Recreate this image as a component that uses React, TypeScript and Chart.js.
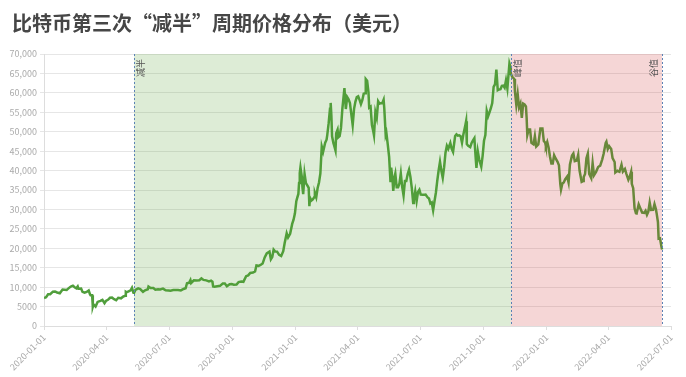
import { useEffect, useRef } from 'react';
import { Chart, registerables } from 'chart.js';

Chart.register(...registerables);

const titleText = '比特币第三次“减半”周期价格分布（美元）';

const dates: string[] = [
  '2020-01-01','2020-01-04','2020-01-07','2020-01-10','2020-01-14','2020-01-17','2020-01-20','2020-01-24','2020-01-28','2020-01-31',
  '2020-02-03','2020-02-06','2020-02-09','2020-02-12','2020-02-15','2020-02-17','2020-02-19','2020-02-20','2020-02-24','2020-02-26','2020-02-29',
  '2020-03-03','2020-03-06','2020-03-08','2020-03-09','2020-03-11','2020-03-12','2020-03-13','2020-03-16','2020-03-19','2020-03-23','2020-03-26','2020-03-29','2020-03-31',
  '2020-04-03','2020-04-06','2020-04-09','2020-04-12','2020-04-15','2020-04-18','2020-04-22','2020-04-25','2020-04-28','2020-04-29','2020-04-30',
  '2020-05-03','2020-05-06','2020-05-08','2020-05-10','2020-05-11','2020-05-13','2020-05-17','2020-05-20','2020-05-24','2020-05-27','2020-05-31',
  '2020-06-01','2020-06-04','2020-06-08','2020-06-11','2020-06-15','2020-06-18','2020-06-22','2020-06-26','2020-06-30',
  '2020-07-03','2020-07-07','2020-07-10','2020-07-14','2020-07-18','2020-07-22','2020-07-25','2020-07-27','2020-07-30',
  '2020-08-01','2020-08-02','2020-08-06','2020-08-10','2020-08-14','2020-08-17','2020-08-20','2020-08-24','2020-08-28','2020-08-31',
  '2020-09-02','2020-09-03','2020-09-05','2020-09-09','2020-09-13','2020-09-17','2020-09-20','2020-09-23','2020-09-27','2020-09-30',
  '2020-10-03','2020-10-07','2020-10-10','2020-10-14','2020-10-17','2020-10-21','2020-10-24','2020-10-27','2020-10-31',
  '2020-11-03','2020-11-05','2020-11-08','2020-11-11','2020-11-14','2020-11-17','2020-11-20','2020-11-24','2020-11-26','2020-11-28','2020-11-30',
  '2020-12-02','2020-12-05','2020-12-08','2020-12-11','2020-12-14','2020-12-16','2020-12-19','2020-12-21','2020-12-24','2020-12-27','2020-12-29','2020-12-31',
  '2021-01-02','2021-01-03','2021-01-05','2021-01-06','2021-01-07','2021-01-08','2021-01-10','2021-01-11','2021-01-12','2021-01-14','2021-01-16','2021-01-18','2021-01-20','2021-01-21','2021-01-22','2021-01-24','2021-01-26','2021-01-28','2021-01-29','2021-01-31',
  '2021-02-02','2021-02-04','2021-02-06','2021-02-08','2021-02-10','2021-02-13','2021-02-15','2021-02-16','2021-02-18','2021-02-20','2021-02-21','2021-02-22','2021-02-23','2021-02-25','2021-02-26','2021-02-28',
  '2021-03-01','2021-03-03','2021-03-04','2021-03-06','2021-03-08','2021-03-10','2021-03-13','2021-03-15','2021-03-17','2021-03-19','2021-03-21','2021-03-23','2021-03-25','2021-03-27','2021-03-29','2021-03-31',
  '2021-04-02','2021-04-04','2021-04-06','2021-04-08','2021-04-10','2021-04-12','2021-04-13','2021-04-15','2021-04-17','2021-04-18','2021-04-20','2021-04-22','2021-04-24','2021-04-25','2021-04-27','2021-04-29',
  '2021-05-01','2021-05-03','2021-05-05','2021-05-07','2021-05-09','2021-05-10','2021-05-12','2021-05-13','2021-05-15','2021-05-17','2021-05-19','2021-05-20','2021-05-22','2021-05-23','2021-05-25','2021-05-26','2021-05-28','2021-05-30',
  '2021-06-01','2021-06-03','2021-06-05','2021-06-07','2021-06-09','2021-06-11','2021-06-13','2021-06-15','2021-06-17','2021-06-19','2021-06-21','2021-06-22','2021-06-24','2021-06-26','2021-06-28','2021-06-30',
  '2021-07-02','2021-07-05','2021-07-07','2021-07-09','2021-07-12','2021-07-14','2021-07-16','2021-07-18','2021-07-20','2021-07-22','2021-07-24','2021-07-26','2021-07-28','2021-07-30',
  '2021-08-01','2021-08-03','2021-08-05','2021-08-07','2021-08-09','2021-08-11','2021-08-14','2021-08-16','2021-08-18','2021-08-21','2021-08-23','2021-08-25','2021-08-27','2021-08-29','2021-08-31',
  '2021-09-02','2021-09-05','2021-09-06','2021-09-07','2021-09-09','2021-09-12','2021-09-14','2021-09-16','2021-09-18','2021-09-20','2021-09-21','2021-09-23','2021-09-25','2021-09-28','2021-09-30',
  '2021-10-02','2021-10-04','2021-10-06','2021-10-08','2021-10-10','2021-10-12','2021-10-14','2021-10-16','2021-10-18','2021-10-20','2021-10-22','2021-10-24','2021-10-26','2021-10-28','2021-10-30',
  '2021-11-01','2021-11-03','2021-11-05','2021-11-08','2021-11-09','2021-11-10','2021-11-12','2021-11-15','2021-11-16','2021-11-18','2021-11-20','2021-11-22','2021-11-24','2021-11-26','2021-11-28','2021-11-30',
  '2021-12-02','2021-12-03','2021-12-04','2021-12-06','2021-12-08','2021-12-10','2021-12-13','2021-12-15','2021-12-17','2021-12-20','2021-12-23','2021-12-26','2021-12-28','2021-12-30','2021-12-31',
  '2022-01-02','2022-01-04','2022-01-06','2022-01-08','2022-01-10','2022-01-12','2022-01-14','2022-01-17','2022-01-19','2022-01-21','2022-01-22','2022-01-24','2022-01-26','2022-01-28','2022-01-31',
  '2022-02-02','2022-02-04','2022-02-07','2022-02-09','2022-02-11','2022-02-14','2022-02-16','2022-02-18','2022-02-21','2022-02-23','2022-02-24','2022-02-26','2022-02-28',
  '2022-03-02','2022-03-04','2022-03-07','2022-03-09','2022-03-11','2022-03-14','2022-03-17','2022-03-20','2022-03-23','2022-03-25','2022-03-28','2022-03-29','2022-03-31',
  '2022-04-02','2022-04-05','2022-04-07','2022-04-10','2022-04-11','2022-04-14','2022-04-17','2022-04-20','2022-04-22','2022-04-25','2022-04-27','2022-04-30',
  '2022-05-02','2022-05-04','2022-05-05','2022-05-07','2022-05-09','2022-05-11','2022-05-12','2022-05-15','2022-05-17','2022-05-20','2022-05-23','2022-05-25','2022-05-27','2022-05-29','2022-05-31',
  '2022-06-02','2022-06-05','2022-06-07','2022-06-09','2022-06-10','2022-06-12','2022-06-13','2022-06-15','2022-06-17','2022-06-18',
];

const prices: number[] = [
  7200,7410,8160,8170,8830,8900,8630,8440,9390,9350,
  9290,9750,10150,10350,9900,9700,10180,9600,9650,8780,8560,
  8760,9120,8110,7940,7910,4970,5560,5010,6190,6480,6730,5880,6440,
  6730,7270,7300,6910,6640,7260,7130,7540,7770,8790,8660,
  8910,9160,9840,8600,8560,9270,9680,9520,8790,9200,9450,
  10170,9790,9770,9320,9450,9420,9630,9170,9140,
  9080,9250,9280,9250,9160,9540,9700,11000,11110,
  11800,11070,11760,11680,11770,12250,11860,11750,11480,11680,
  11400,10170,10130,10240,10330,10940,10920,10250,10770,10780,
  10620,10670,11300,11420,11360,12820,13030,13650,13780,
  14030,15570,15480,15700,16070,17640,18680,19160,17150,17720,19630,
  19200,19150,18320,18040,19270,21310,23850,22800,23730,26270,27360,28990,
  32130,32780,33990,36820,39370,40800,38350,35570,33920,39180,36770,36200,35560,30830,33000,32290,32570,33110,34240,33140,
  35510,36930,39260,46200,44860,47170,47940,49130,52120,55890,57410,54090,48820,47030,46450,45140,
  49630,50540,48560,48880,50970,55950,61200,55850,58910,58330,57350,54530,51710,55880,57750,58920,
  59130,58200,57090,58090,59800,59900,63540,63110,60060,56220,56470,51700,50050,49070,55030,53560,
  57830,57210,57350,57340,58240,55860,49150,49720,46760,43540,37000,40780,37530,34770,38400,39200,35680,35680,
  36690,39250,35790,33560,37340,37340,39100,40220,38350,35480,31680,32510,34660,32190,34480,35040,
  33810,33800,33800,33820,33090,32820,31530,31780,29790,32110,34290,37340,40010,42240,
  39970,38150,40870,44610,46370,45590,47100,45600,44800,48880,49330,48990,49060,48830,47170,
  49310,51780,52700,46810,46400,46060,47110,47780,48330,43010,40700,44900,42840,41030,43790,
  47670,49110,55360,53970,54970,56040,57360,61530,62210,66000,60690,60870,60930,61830,61890,
  61330,63250,61130,67560,66970,64990,64150,63560,60370,56940,59700,56280,57240,53570,57230,57010,
  56510,53600,49150,50580,50580,47140,46740,48900,46170,46710,50820,50810,47590,47180,46310,
  47350,45900,43570,41820,41820,43950,43180,42250,41370,36480,35070,36680,36950,37710,38480,
  36950,41570,43850,44390,42410,42590,44060,40000,37090,37300,38330,39130,43190,
  44350,39150,38060,41940,38800,39670,40920,41260,42890,44330,47120,47430,45540,
  46280,45530,43210,42200,39520,39940,39680,41500,39740,40430,39240,37640,
  38470,39700,36580,35470,30300,29000,28950,31300,30450,29200,29100,29650,28630,29440,31790,
  29860,29890,31370,30110,29100,26760,22490,22580,20550,19700,
];

const xTickLabels: string[] = [
  '2020-01-01','2020-04-01','2020-07-01','2020-10-01','2021-01-01','2021-04-01',
  '2021-07-01','2021-10-01','2022-01-01','2022-04-01','2022-07-01',
];

const yMin = 0;
const yMax = 70000;
const yStep = 5000;

const phaseDates: string[] = ['2020-05-11', '2021-11-10', '2022-06-18'];
const phaseLabels: string[] = ['减半', '峰值', '谷值'];

const FONT = '"Noto Sans CJK SC", "Noto Sans", sans-serif';
const BASE = Date.UTC(2020, 0, 1);
const toDay = (s: string) => {
  const [y, m, d] = s.split('-').map(Number);
  return (Date.UTC(y, m - 1, d) - BASE) / 86400000;
};

const phaseFills = ['rgba(85,160,50,0.2)', 'rgba(205,50,50,0.2)'];
const labelOffsets = [6.5, 6.5, -8.5];

const phasePlugin = {
  id: 'phases',
  afterDatasetsDraw(chart: any) {
    const { ctx, chartArea, scales } = chart;
    const { top, bottom } = chartArea;
    const xs = phaseDates.map((d) => scales.x.getPixelForValue(toDay(d)));
    ctx.save();
    for (let i = 0; i < xs.length - 1; i++) {
      ctx.fillStyle = phaseFills[i];
      ctx.fillRect(xs[i], top, xs[i + 1] - xs[i], bottom - top);
    }
    ctx.strokeStyle = '#5b82b5';
    ctx.lineWidth = 1;
    ctx.setLineDash([2, 2]);
    xs.forEach((px) => {
      const p = Math.round(px) + 0.5;
      ctx.beginPath();
      ctx.moveTo(p, top);
      ctx.lineTo(p, bottom);
      ctx.stroke();
    });
    ctx.setLineDash([]);
    ctx.font = '9px ' + FONT;
    ctx.fillStyle = '#555';
    phaseLabels.forEach((label, i) => {
      ctx.save();
      ctx.translate(xs[i] + labelOffsets[i], top + 5);
      ctx.rotate(-Math.PI / 2);
      ctx.textAlign = 'right';
      ctx.textBaseline = 'middle';
      ctx.fillText(label, 0, 0);
      ctx.restore();
    });
    ctx.restore();
  },
};

export default function App() {
  const canvasRef = useRef<HTMLCanvasElement | null>(null);

  useEffect(() => {
    const canvas = canvasRef.current;
    if (!canvas) return;
    const points = dates.map((d, i) => ({ x: toDay(d), y: prices[i] }));
    const chart = new Chart(canvas, {
      type: 'line',
      data: {
        datasets: [
          {
            data: points,
            borderColor: 'rgb(80,158,60)',
            borderWidth: 2.5,
            pointRadius: 0,
            tension: 0,
            fill: false,
          },
        ],
      },
      options: {
        animation: false,
        responsive: false,
        maintainAspectRatio: false,
        layout: { padding: { top: 54, right: 15, left: 0, bottom: 0 } },
        plugins: {
          legend: { display: false },
          tooltip: { enabled: false },
          title: { display: false },
        },
        scales: {
          x: {
            type: 'linear',
            min: toDay(xTickLabels[0]),
            max: toDay(xTickLabels[xTickLabels.length - 1]),
            afterBuildTicks: (scale: any) => {
              scale.ticks = xTickLabels.map((l) => ({ value: toDay(l) }));
            },
            afterFit: (scale: any) => {
              scale.height = 51;
            },
            ticks: {
              autoSkip: false,
              minRotation: 45,
              maxRotation: 45,
              padding: 2,
              color: '#aaa',
              font: { size: 9, family: FONT },
              callback: (value: any) => {
                const found = xTickLabels.find((l) => toDay(l) === value);
                return found ?? '';
              },
            },
            grid: { drawOnChartArea: false, tickLength: 4, color: '#ddd' },
            border: { color: '#ddd' },
          },
          y: {
            min: yMin,
            max: yMax,
            afterFit: (scale: any) => {
              scale.width = 44;
            },
            ticks: {
              stepSize: yStep,
              padding: 3,
              color: '#aaa',
              font: { size: 9, family: FONT },
              callback: (value: any) =>
                value >= 10000 ? Number(value).toLocaleString('en-US') : String(value),
            },
            grid: { color: '#e6e6e6', tickLength: 4 },
            border: { color: '#ddd' },
          },
        },
      },
      plugins: [phasePlugin],
    } as any);
    return () => chart.destroy();
  }, []);

  return (
    <div style={{ position: 'absolute', left: 0, top: 0, width: 686, height: 377, background: '#fff' }}>
      <canvas ref={canvasRef} width={686} height={377} style={{ position: 'absolute', left: 0, top: 0 }} />
      <div
        style={{
          position: 'absolute',
          left: 12,
          top: 13,
          fontFamily: FONT,
          fontWeight: 700,
          fontSize: 20,
          lineHeight: '20px',
          color: '#464646',
          whiteSpace: 'nowrap',
        }}
      >
        {titleText}
      </div>
    </div>
  );
}
